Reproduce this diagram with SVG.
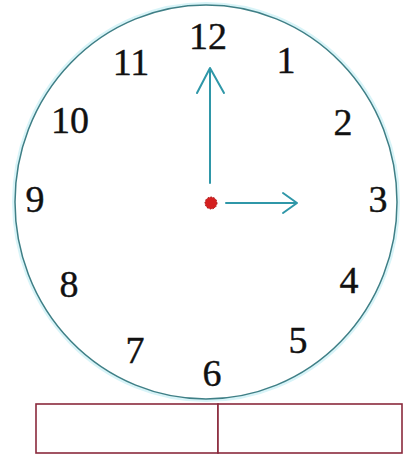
<svg xmlns="http://www.w3.org/2000/svg" width="403" height="457" viewBox="0 0 403 457">
<defs>
<style>
.num{font-family:"Liberation Serif","Times New Roman",serif;font-size:38px;fill:#111;stroke:#111;stroke-width:0.4;text-anchor:middle}
.hand{stroke:#2f97a8;stroke-width:2;fill:none;stroke-linecap:round;stroke-linejoin:round}
.box{fill:#fff;stroke:#8a2a3c;stroke-width:1.6}
</style>
</defs>
<rect width="403" height="457" fill="#fff"/>
<g id="face">
<ellipse cx="206" cy="202" rx="192" ry="198" fill="none" stroke="#d8f4f8" stroke-width="4"/>
<ellipse cx="206" cy="202" rx="191" ry="197" fill="#fff" stroke="#3f7f86" stroke-width="1.5"/>
</g>
<g id="numbers">
<text class="num" x="208" y="49">12</text>
<text class="num" x="286" y="73">1</text>
<text class="num" x="343" y="135">2</text>
<text class="num" x="378" y="212">3</text>
<text class="num" x="349" y="293">4</text>
<text class="num" x="298" y="353">5</text>
<text class="num" x="212" y="386">6</text>
<text class="num" x="135" y="363">7</text>
<text class="num" x="69" y="297">8</text>
<text class="num" x="35" y="212">9</text>
<text class="num" x="70" y="133">10</text>
<text class="num" x="131" y="75">11</text>
</g>
<g id="connectors">
<path class="hand" d="M210 183 V68 M197 93 L210 68 L224 93"/>
<path class="hand" d="M226 203 H297 M283 193 L297 203 L283 213"/>
</g>
<g id="center">
<circle cx="211" cy="203" r="6" fill="#d42020" stroke="#a01010" stroke-width="1" stroke-dasharray="1.5 1.5"/>
</g>
<g id="boxes">
<rect id="box-left" class="box" x="36" y="404" width="182" height="49"/>
<rect id="box-right" class="box" x="218" y="404" width="184" height="49"/>
</g>
</svg>
